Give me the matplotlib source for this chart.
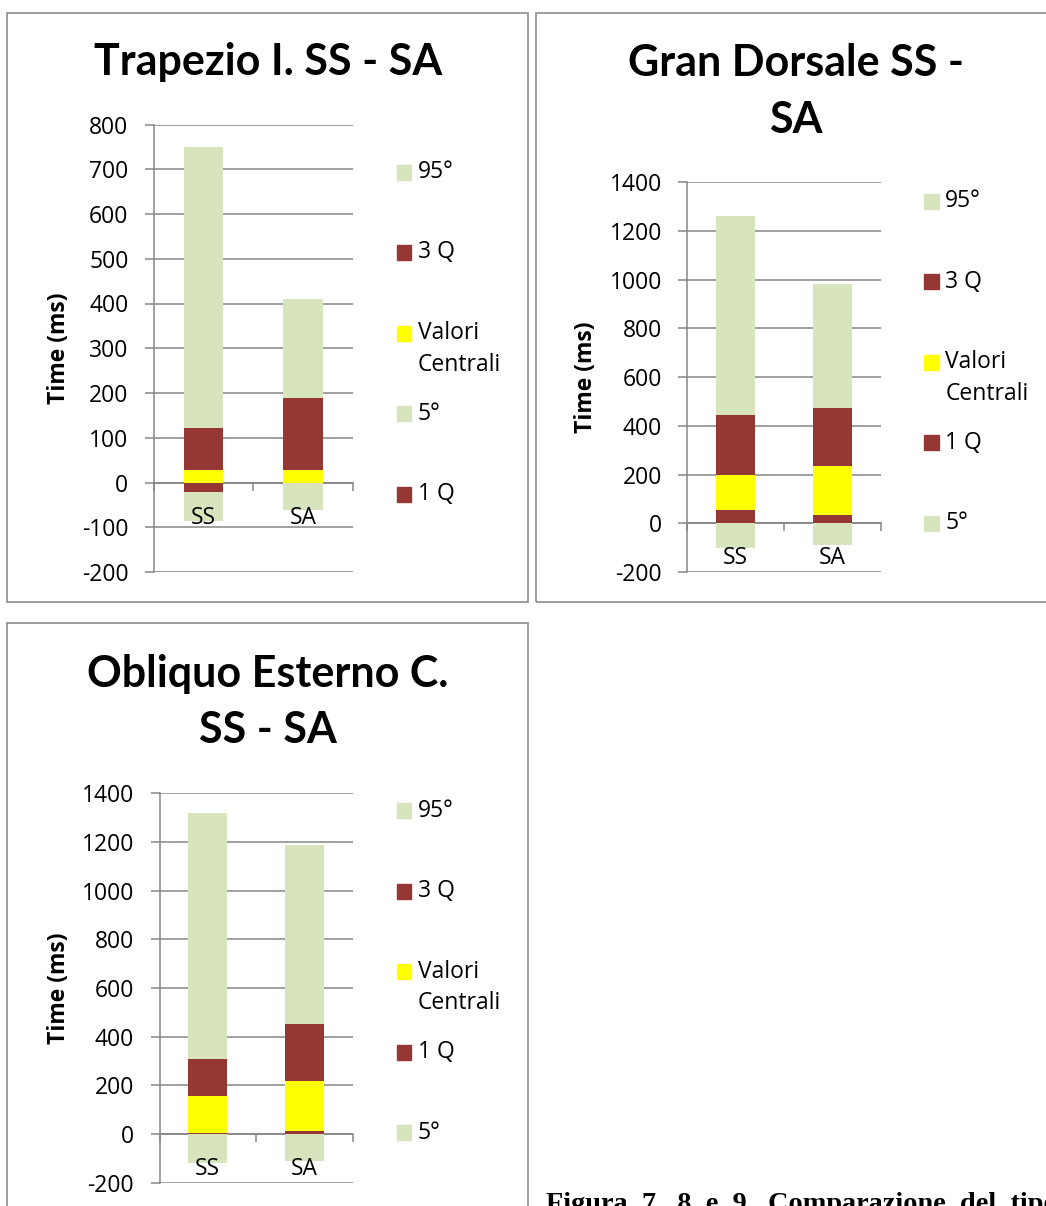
import matplotlib.pyplot as plt
from matplotlib.patches import Rectangle
import numpy as np

plt.rcParams['font.family'] = ['Open Sans', 'DejaVu Sans']
plt.rcParams['axes.unicode_minus'] = False

categories = ['SS', 'SA']

# Trapezio I. (series in stacking order)
trap_q1 = [-22, 0]
trap_p5 = [-63, -61]
trap_central = [28, 28]
trap_q3 = [94, 161]
trap_p95 = [628, 221]

# Gran Dorsale
gd_p5 = [-100, -91]
gd_q1 = [56, 32]
gd_central = [144, 204]
gd_q3 = [244, 238]
gd_p95 = [816, 509]

# Obliquo Esterno C.
obl_p5 = [-118, -111]
obl_q1 = [4, 12]
obl_central = [154, 206]
obl_q3 = [150, 236]
obl_p95 = [1011, 734]

GREEN = '#d7e4bd'
RED = '#953735'
YELLOW = '#ffff00'
GRID = '#868686'
FS = 16.5

W, H = 1046, 1206
fig = plt.figure(figsize=(W / 100, H / 100), dpi=100)


def add_box(x0, y0, x1, y1):
    fig.patches.append(Rectangle((x0 / W, 1 - y1 / H), (x1 - x0) / W, (y1 - y0) / H,
                                 transform=fig.transFigure, fill=False,
                                 edgecolor='#8c8c8c', lw=1.2))


def panel(axbox, series, ymax, ystep, title, title_xy, leg_x, leg_y0, ylab_off):
    x0, y0, x1, y1 = axbox
    ax = fig.add_axes([x0 / W, 1 - y1 / H, (x1 - x0) / W, (y1 - y0) / H])
    x = np.arange(len(categories))
    pos = np.zeros(len(categories))
    neg = np.zeros(len(categories))
    for label, vals, color in series:
        v = np.array(vals, dtype=float)
        ax.bar(x, v, 0.4, bottom=np.where(v >= 0, pos, neg), color=color,
               linewidth=0, zorder=2)
        pos += np.clip(v, 0, None)
        neg += np.clip(v, None, 0)

    ax.set_xlim(-0.5, len(categories) - 0.5)
    ax.set_ylim(-200, ymax)
    ax.set_yticks(np.arange(-200, ymax + 1, ystep))
    ax.yaxis.grid(True, color=GRID, lw=1.1, zorder=0)
    ax.set_axisbelow(True)
    for s in ['top', 'right']:
        ax.spines[s].set_visible(False)
    ax.spines['left'].set_color(GRID)
    ax.spines['left'].set_linewidth(1.1)
    ax.spines['bottom'].set_position(('data', 0))
    ax.spines['bottom'].set_color(GRID)
    ax.spines['bottom'].set_linewidth(1.1)
    ax.spines['bottom'].set_zorder(1)
    ax.tick_params(axis='y', direction='out', length=6.3, width=1.1, color=GRID,
                   pad=12, labelsize=FS)
    ax.set_xticks([])
    ax.set_xticks(np.arange(-0.5, len(categories)), minor=True)
    ax.tick_params(axis='x', which='minor', direction='out', length=5.8, width=1.1,
                   color=GRID)
    for i, cat in enumerate(categories):
        ax.annotate(cat, xy=(i, 0), xycoords='data', xytext=(0, -35),
                    textcoords='offset pixels', ha='center', va='center',
                    fontsize=FS, zorder=5)
    ax.annotate('Time (ms)', xy=(0, 0.5), xycoords='axes fraction',
                xytext=(-ylab_off, 0), textcoords='offset pixels', rotation=90,
                ha='center', va='center', fontsize=16.5, fontweight='bold')

    fig.text(title_xy[0] / W, 1 - title_xy[1] / H, title, ha='center', va='center',
             fontsize=31, fontweight='bold', linespacing=1.5,
             family=['Lato', 'DejaVu Sans'])

    # legend, top entry = last series
    for i, (label, vals, color) in enumerate(series[::-1]):
        yc = leg_y0 + i * 80.5
        fig.patches.append(Rectangle((leg_x / W, 1 - (yc + 7.5) / H), 14.3 / W, 15 / H,
                                     transform=fig.transFigure, color=color))
        for k, line in enumerate(label.split('\n')):
            fig.text((leg_x + 21) / W, 1 - (yc + k * 31.6) / H, line,
                     ha='left', va='center', fontsize=FS)
    return ax


add_box(6.8, 12.8, 528.4, 602)
add_box(535.5, 12.8, 1052, 602)
add_box(6.8, 622.5, 528.4, 1212)

panel((153.8, 124.5, 352.6, 572),
      [('1 Q', trap_q1, RED), ('5°', trap_p5, GREEN), ('Valori\nCentrali', trap_central, YELLOW),
       ('3 Q', trap_q3, RED), ('95°', trap_p95, GREEN)],
      800, 100, 'Trapezio I. SS - SA', (268, 62), 396.5, 172, 95)

panel((687.3, 182, 880.7, 572),
      [('5°', gd_p5, GREEN), ('1 Q', gd_q1, RED), ('Valori\nCentrali', gd_central, YELLOW),
       ('3 Q', gd_q3, RED), ('95°', gd_p95, GREEN)],
      1400, 200, 'Gran Dorsale SS -\nSA', (795.8, 91.3), 924.3, 201, 101)

panel((159.5, 793.3, 352.6, 1182.7),
      [('5°', obl_p5, GREEN), ('1 Q', obl_q1, RED), ('Valori\nCentrali', obl_central, YELLOW),
       ('3 Q', obl_q3, RED), ('95°', obl_p95, GREEN)],
      1400, 200, 'Obliquo Esterno C.\nSS - SA', (268, 702.2), 396.5, 810.8, 101)

# caption of the page, justified in the source so words are spread out
fig.text(545.5 / W, 1 - 1211 / H, 'Figura  7,  8  e  9.  Comparazione  del  tipo',
         ha='left', va='baseline', fontsize=20.3, fontweight='bold',
         family=['Liberation Serif', 'DejaVu Serif'])

fig.savefig('out.png', dpi=100)
